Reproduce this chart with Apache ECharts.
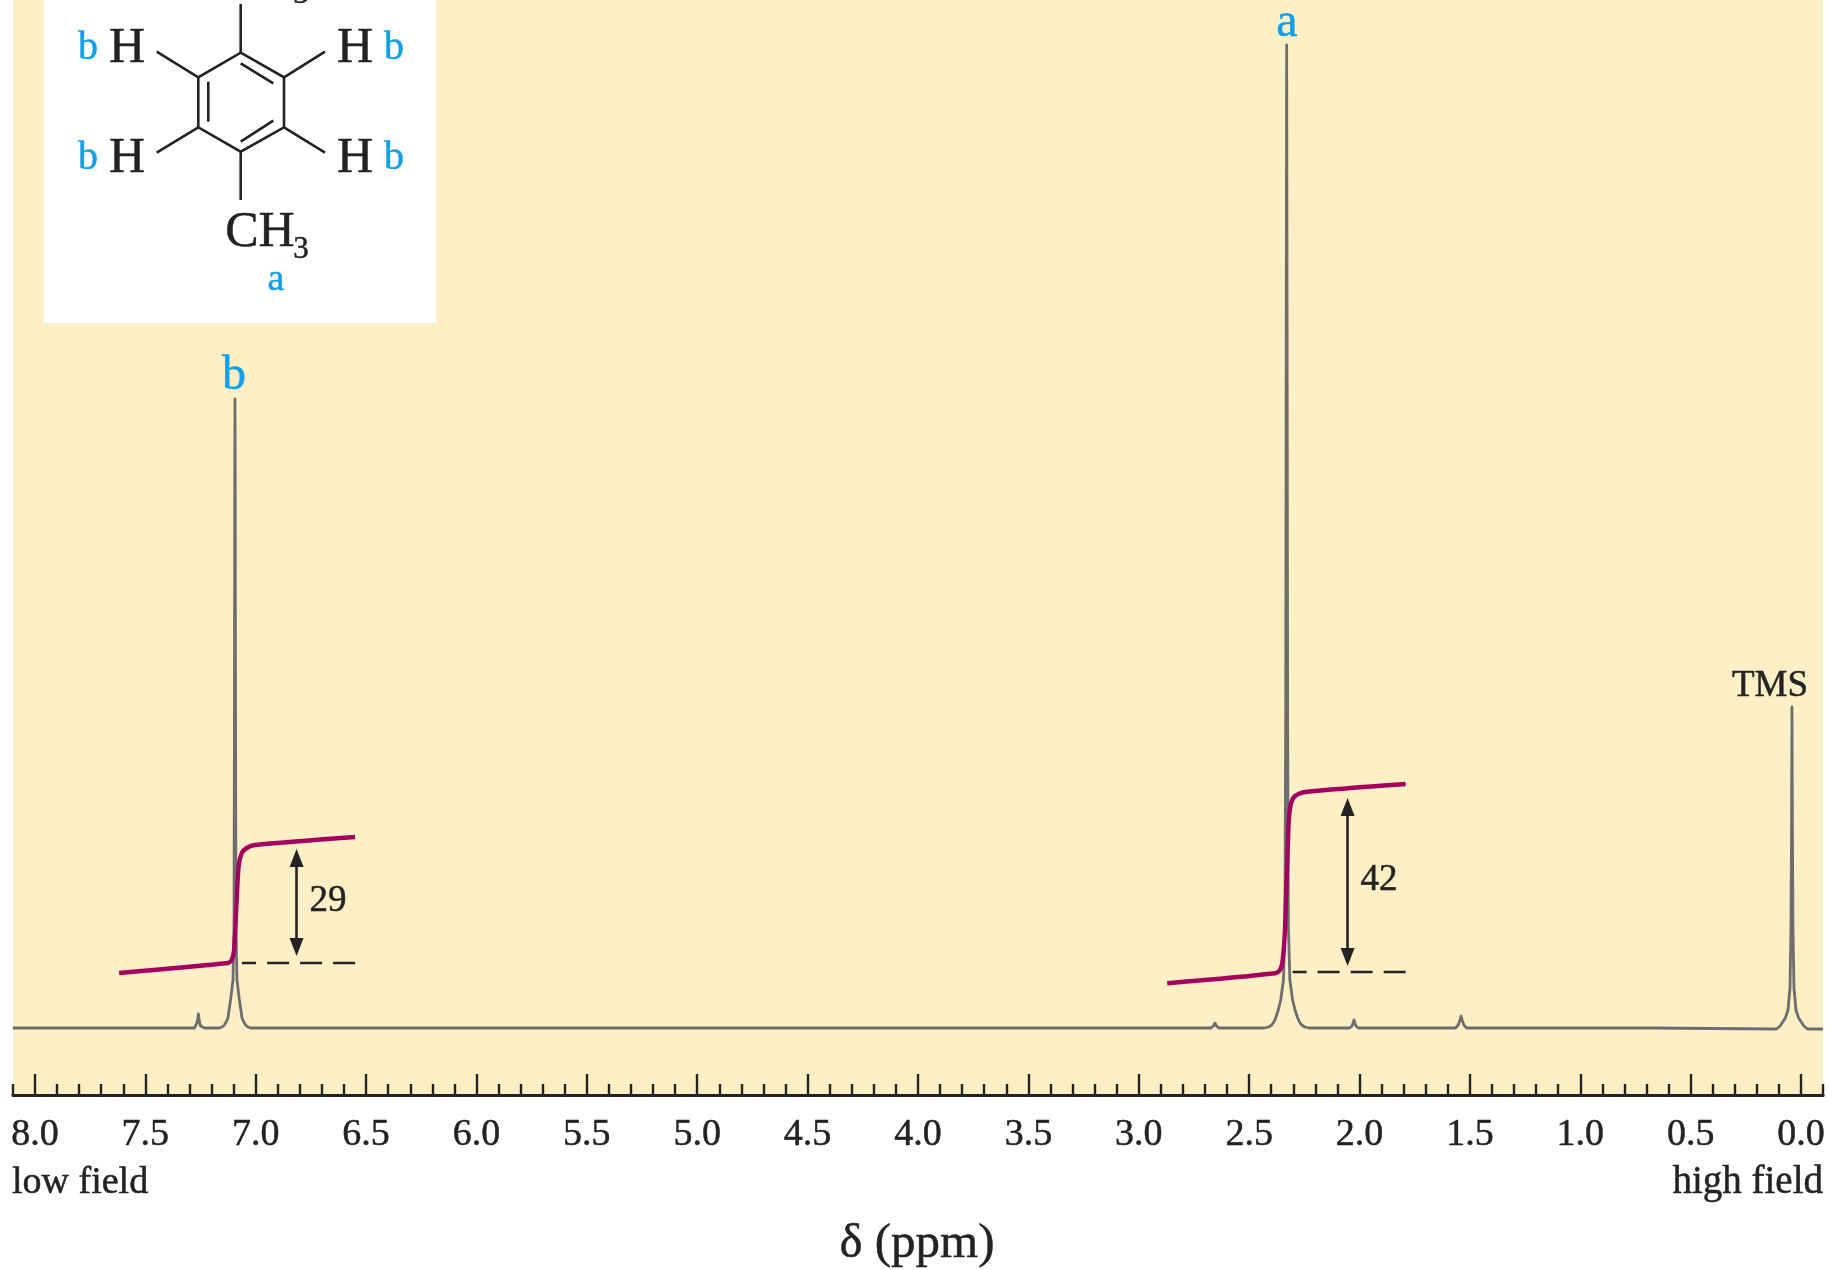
<!DOCTYPE html>
<html>
<head>
<meta charset="utf-8">
<style>html,body{margin:0;padding:0;background:#fff}#c{width:1829px;height:1270px}</style>
<script src="https://cdn.jsdelivr.net/npm/echarts@6/dist/echarts.min.js"></script>
</head>
<body>
<div id="c"></div>
<script>
// ---- Tick positions (delta, ppm) ----
const majorTicks = [0,0.5,1,1.5,2,2.5,3,3.5,4,4.5,5,5.5,6,6.5,7,7.5,8];
const minorTicks = [-0.1,0.1,0.2,0.3,0.4,0.6,0.7,0.8,0.9,1.1,1.2,1.3,1.4,1.6,1.7,1.8,1.9,2.1,2.2,2.3,2.4,2.6,2.7,2.8,2.9,3.1,3.2,3.3,3.4,3.6,3.7,3.8,3.9,4.1,4.2,4.3,4.4,4.6,4.7,4.8,4.9,5.1,5.2,5.3,5.4,5.6,5.7,5.8,5.9,6.1,6.2,6.3,6.4,6.6,6.7,6.8,6.9,7.1,7.2,7.3,7.4,7.6,7.7,7.8,7.9,8.1];

// ---- Spectrum trace ----
const spectrumPpm = [8.1,7.278,7.27,7.266,7.263,7.26,7.257,7.254,7.25,7.242,7.232,7.21,
  7.165,7.153,7.142,7.134,7.126,7.114,7.103,7.0985,7.0965,7.095,7.094,7.093,7.0915,7.0895,7.085,7.074,7.062,7.054,7.046,7.035,7.023,
  2.672,2.662,2.655,2.648,2.638,2.628,2.6,
  2.432,2.412,2.398,2.388,2.38,2.368,2.357,2.3445,2.338,2.3345,2.332,2.33,2.328,2.3255,2.322,2.3155,2.303,2.292,2.28,2.272,2.262,2.248,2.228,
  2.045,2.034,2.029,2.025,2.021,2.016,2.005,
  1.565,1.553,1.546,1.54,1.534,1.527,1.515,
  0.68,0.125,0.111,0.095,0.086,0.071,0.059,0.05,0.0455,0.043,0.041,0.039,0.0365,0.032,0.023,0.011,-0.004,-0.013,-0.029,-0.1];
const spectrumIntensity = [0,0,2,5,9,14,9,5,2,0,0,0,
  0,1,3,6,10,28,48,100,300,560,629,560,300,100,48,28,10,6,3,1,0,
  0,2,5,2,0,0,0,
  0,1,3,6,10,18,28,48,100,300,700,983,700,300,100,48,28,18,10,6,3,1,0,
  0,2,5,8,5,2,0,
  0,3,7,12,7,3,0,
  0,-1,-1,2,5,10,18,40,100,200,321,200,100,40,18,10,5,2,-1,-1];

// ---- Integral traces ----
const integralBPpm = [7.619,7.126,7.109,7.098,7.078,7.063,7.041,7.003,6.55];
const integralBValue = [55,65,68,78,161,175,180,183,191];
const integralAPpm = [2.871,2.383,2.36,2.348,2.337,2.322,2.312,2.292,2.247,1.791];
const integralAValue = [44.7,54.7,58,68,101,201,223,232,236,244];

// ---- Dashed integral baselines and height arrows ----
const dashBPpm = [6.55,7.063];
const dashBValue = [65,65];
const dashAPpm = [1.791,2.303];
const dashAValue = [56,56];
const arrowBPpm = 6.815;
const arrowBRange = [170,81];
const arrowAPpm = 2.054;
const arrowARange = [221,71];

const INK = '#232323', BLUE = '#12a0ea', MAGENTA = '#a4005f', TRACE = '#6e6e6e', PANEL = '#fdf0c6';
const SERIF = '"Liberation Serif", serif';
const zip = (a, b) => a.map((v, i) => [v, b[i]]);

function text(t, x, y, size, fill, align) {
  const c = fill || INK;
  return {type:'text', z:20, style:{text:t, x:x, y:y, fill:c, stroke:c, lineWidth:0.5, font:size+'px '+SERIF,
    textAlign:align||'center', textVerticalAlign:'middle'}};
}
function seg(x1,y1,x2,y2) {
  return {type:'line', z:20, shape:{x1,y1,x2,y2}, style:{stroke:INK, lineWidth:2.6}};
}

const graphic = [
  {type:'rect', z:10, shape:{x:44,y:0,width:392,height:323}, style:{fill:'#fff'}},
  {type:'polygon', z:20, shape:{points:[[240.7,52.7],[284,77.3],[284,127.3],[240.7,151.7],[198.3,127.3],[198.3,77.3]]},
    style:{fill:'none', stroke:INK, lineWidth:2.6}},
  seg(240.7,63.3,273.3,83.3), seg(208.3,81.7,208.3,121.7), seg(240.7,141.7,273.3,120.7),
  seg(240.7,4,240.7,52.7), seg(240.7,151.7,240.7,200),
  seg(198.3,77.3,156.7,51.7), seg(284,77.3,325,51.7), seg(198.3,127.3,156.7,152.7), seg(284,127.3,325,152.7),
  text('H',127,49,50), text('H',355,49,50), text('H',127,159,50), text('H',355,159,50),
  text('b',88,48,40,BLUE), text('b',394,48,40,BLUE), text('b',88,158,40,BLUE), text('b',394,158,40,BLUE),
  text('3',301,-5,31),
  text('CH',260,233,50), text('3',301,250,31), text('a',276,280,38,BLUE),
  text('a',1287,23,48,BLUE), text('b',234,376,48,BLUE), text('TMS',1770,686,37),
  text('29',328,901,37), text('42',1379,880,37),
  text('low field',12,1183,38,INK,'left'), text('high field',1823,1183,39,INK,'right'),
  text('δ (ppm)',917,1244,49)
];

const chart = echarts.init(document.getElementById('c'), null, {renderer:'canvas'});
chart.setOption({
  animation:false,
  backgroundColor:'#fff',
  grid:{left:12.9, right:5.9, top:0, height:1095, show:true, backgroundColor:PANEL, borderWidth:0},
  xAxis:[
    {type:'value', min:-0.1, max:8.1, inverse:true, position:'bottom', splitLine:{show:false},
      axisLine:{show:true, onZero:false, lineStyle:{color:INK, width:3}},
      axisTick:{show:true, inside:true, length:21, customValues:majorTicks, lineStyle:{color:INK, width:2.4}},
      axisLabel:{show:true, customValues:majorTicks, margin:21, fontFamily:'Liberation Serif', fontSize:38, color:INK,
        textBorderColor:INK, textBorderWidth:0.5,
        formatter:v => v.toFixed(1), hideOverlap:false, showMinLabel:true, showMaxLabel:true}},
    {type:'value', min:-0.1, max:8.1, inverse:true, position:'bottom', splitLine:{show:false},
      axisLine:{show:false, onZero:false}, axisLabel:{show:false},
      axisTick:{show:true, inside:true, length:11, customValues:minorTicks, lineStyle:{color:INK, width:2.4}}}
  ],
  yAxis:{type:'value', min:-67, max:1028, show:false, splitLine:{show:false}},
  series:[
    {type:'line', name:'spectrum', data:zip(spectrumPpm, spectrumIntensity), showSymbol:false, smooth:false, sampling:false, z:3,
      lineStyle:{color:TRACE, width:2.8, join:'round'}},
    {type:'line', name:'integral b', data:zip(integralBPpm, integralBValue), showSymbol:false, smooth:0.25, z:5,
      lineStyle:{color:MAGENTA, width:4.4}},
    {type:'line', name:'integral a', data:zip(integralAPpm, integralAValue), showSymbol:false, smooth:0.25, z:5,
      lineStyle:{color:MAGENTA, width:4.4}},
    {type:'line', name:'baseline b', data:zip(dashBPpm, dashBValue), showSymbol:false, z:4,
      lineStyle:{color:INK, width:2.6, type:[22,11]}},
    {type:'line', name:'baseline a', data:zip(dashAPpm, dashAValue), showSymbol:false, z:4,
      lineStyle:{color:INK, width:2.6, type:[22,11]}},
    {type:'line', name:'arrows', data:[], z:6,
      markLine:{silent:true, animation:false, symbol:['triangle','triangle'], symbolSize:[14,18], precision:3,
        label:{show:false}, lineStyle:{color:INK, width:2.6, type:'solid'},
        data:[
          [{coord:[arrowBPpm, arrowBRange[0]]},{coord:[arrowBPpm, arrowBRange[1]]}],
          [{coord:[arrowAPpm, arrowARange[0]]},{coord:[arrowAPpm, arrowARange[1]]}]
        ]}}
  ],
  graphic:graphic
});
</script>
</body>
</html>
